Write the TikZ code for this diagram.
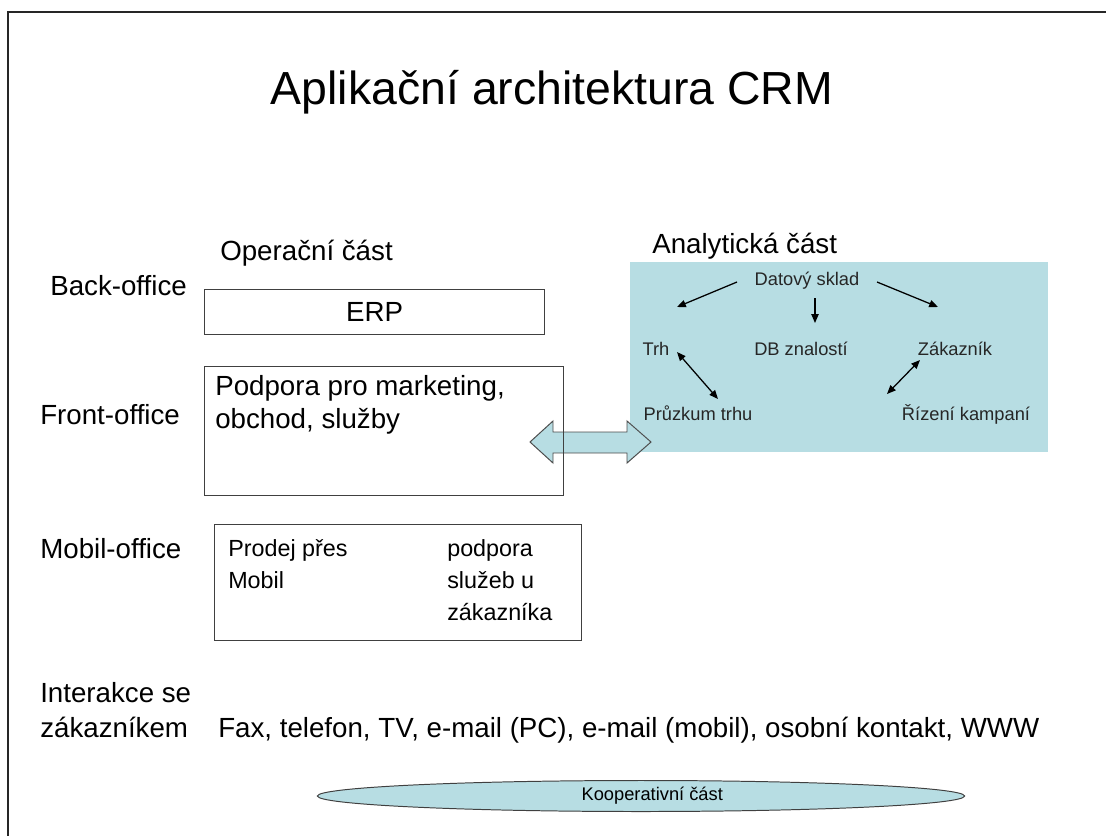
\documentclass[tikz,border=0pt]{standalone}
\usepackage{fontspec}
\setmainfont{Liberation Sans}
\usetikzlibrary{shapes.geometric,arrows.meta,calc}
\definecolor{analytic}{RGB}{183,221,227}
\newcommand{\nadpis}{\fontsize{33}{40}\selectfont}
\newcommand{\hlavni}{\fontsize{19.7}{23.4}\selectfont}
\newcommand{\mobilni}{\fontsize{16.6}{22.7}\selectfont}
\newcommand{\drobne}{\fontsize{13}{16}\selectfont}

\begin{document}
\begin{tikzpicture}[x=0.025cm, y=-0.025cm,
		txt/.style={font=\hlavni, inner sep=0pt, anchor=base west},
		ana/.style={font=\drobne, inner sep=0pt, anchor=base, text=black!85},
		mob/.style={font=\mobilni, inner sep=0pt, anchor=base west},
		ramec/.style={draw=black!75, line width=0.7pt, inner sep=0pt},
		sipka/.style={line width=0.9pt, -{Triangle[length=2.2mm,width=1.8mm]}},
		dvojsipka/.style={line width=0.9pt, {Triangle[length=2.2mm,width=1.8mm]}-{Triangle[length=2.2mm,width=1.8mm]}}]
		\useasboundingbox (0,0) rectangle (1106,836);
		\draw[line width=1.4pt, black!85] (8,836) -- (8,12) -- (1106,12);

		\node[font=\nadpis, inner sep=0pt, anchor=base] (titul) at (552,104) {Aplikační architektura CRM};

		% leva strana
		\node[txt] (back) at (50,295) {Back-office};
		\node[txt] (oper) at (220,260) {Operační část};
		\node[txt] (front) at (40,424) {Front-office};
		\node[txt] (mobil) at (40,558) {Mobil-office};
		\node[txt] (inter1) at (40,702) {Interakce se};
		\node[txt] (inter2) at (40,737) {zákazníkem};
		\node[txt] (kanaly) at (218,737) {Fax, telefon, TV, e-mail (PC), e-mail (mobil), osobní kontakt, WWW};

		\node[ramec, font=\hlavni, minimum width=8.475cm, minimum height=1.125cm] (erp) at (374.5,311.5) {ERP};

		\node[ramec, minimum width=9.15cm, minimum height=2.9cm] (mbox) at (398,582) {};
		\node[mob] (prodej) at (228,556) {Prodej přes};
		\node[mob] (mob1) at (228,588) {Mobil};
		\node[mob] (podpora) at (447,556) {podpora};
		\node[mob] (sluzeb) at (447,588) {služeb u};
		\node[mob] (zakaznika) at (447,620) {zákazníka};

		% analyticka cast
		\node[txt] (anal) at (652,253) {Analytická část};
		\node[fill=analytic, minimum width=10.45cm, minimum height=4.75cm, inner sep=0pt] (abox) at (839,357) {};
		\node[ana] (sklad) at (807,285) {Datový sklad};
		\node[ana] (trh) at (656,355) {Trh};
		\node[ana] (dbz) at (801,355) {DB znalostí};
		\node[ana] (zak) at (955,355) {Zákazník};
		\node[ana] (pruzkum) at (698,420) {Průzkum trhu};
		\node[ana] (rizeni) at (966,420) {Řízení kampaní};

		\draw[sipka] ($(sklad.base)+(-70,-3)$) -- ($(trh.base)+(21,-48)$);
		\draw[sipka] ($(sklad.base)+(8,13)$) -- ($(dbz.base)+(14,-32)$);
		\draw[sipka] ($(sklad.base)+(70,-3)$) -- ($(zak.base)+(-17,-48)$);
		\draw[dvojsipka] ($(trh.base)+(21,-3)$) -- ($(pruzkum.base)+(20,-21)$);
		\draw[dvojsipka] ($(zak.base)+(-35,5)$) -- ($(rizeni.base)+(-79,-26)$);

		% obousmerna sipka
		\draw[fill=analytic, draw=black!70, line width=0.7pt] (530,442) -- ++(23,-21) -- ++(0,11) -- ++(74,0) -- ++(0,-11) -- ++(24,21) -- ++(-24,21) -- ++(0,-10) -- ++(-74,0) -- ++(0,10) -- cycle;

		\node[ramec, minimum width=8.95cm, minimum height=3.2cm] (fbox) at (384,431) {};
		\node[txt] (fr1) at (215,395) {Podpora pro marketing,};
		\node[txt] (fr2) at (215,428) {obchod, služby};

		\node[ellipse, draw=black!75, fill=analytic, line width=0.7pt, minimum width=16.175cm, minimum height=0.775cm, inner sep=0pt, font=\drobne] (koop) at (641,796) {\hspace{16pt}Kooperativní část};
	\end{tikzpicture}
\end{document}
